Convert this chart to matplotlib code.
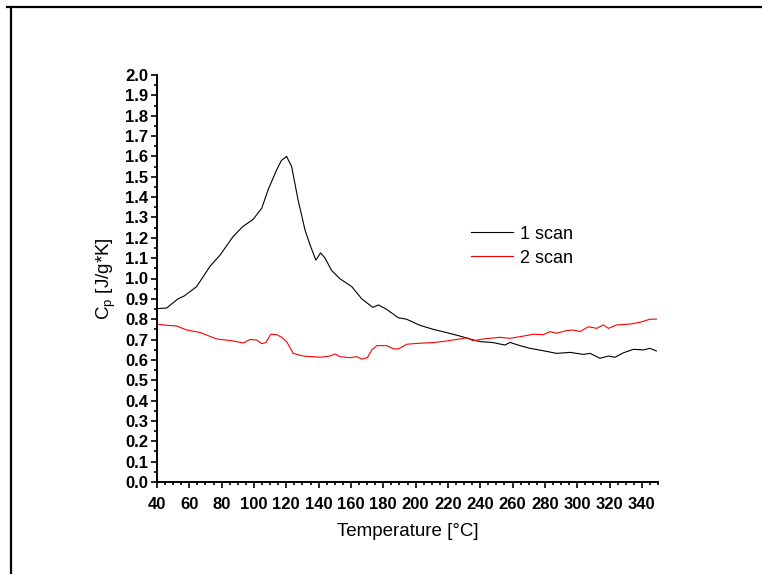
import matplotlib
matplotlib.use("Agg")
import matplotlib.pyplot as plt
from matplotlib.lines import Line2D
from matplotlib.ticker import MultipleLocator, FormatStrFormatter

plt.rcParams['font.family'] = ['Liberation Sans', 'DejaVu Sans']

# 1 scan (black)
t1 = [40, 46, 53, 57, 64.5, 72.8, 79, 87, 93, 99.4, 104.8, 108.7, 114, 117,
      120.2, 123.3, 127.3, 131.6, 134.7, 138.3, 141.2, 144, 148, 153, 160.5,
      166.7, 173.5, 177, 182, 189.3, 194.4, 202.7, 211, 219.3, 227.5, 235.7,
      240, 248, 255.3, 258.4, 264.6, 270.8, 279, 287.3, 295.6, 303.8, 308,
      314.1, 319.3, 323.4, 328.6, 334.8, 341, 345, 349]
cp1 = [0.852, 0.855, 0.90, 0.915, 0.96, 1.06, 1.115, 1.205, 1.255, 1.29,
       1.345, 1.435, 1.533, 1.58, 1.60, 1.55, 1.386, 1.238, 1.165, 1.09,
       1.126, 1.10, 1.04, 1.00, 0.96, 0.90, 0.858, 0.87, 0.849, 0.807, 0.80,
       0.77, 0.75, 0.734, 0.717, 0.698, 0.69, 0.685, 0.673, 0.686, 0.67,
       0.657, 0.645, 0.632, 0.637, 0.627, 0.632, 0.608, 0.619, 0.613, 0.635,
       0.652, 0.649, 0.657, 0.644]

# 2 scan (red)
t2 = [40, 46, 52, 58.4, 66.6, 76.9, 87.2, 93.4, 97.5, 101.7, 104.8, 107.4,
      110.4, 114, 117, 120.2, 124.3, 130.5, 140.9, 147, 150.1, 153.2, 159.4,
      163.6, 166.7, 170.2, 172.9, 176, 182.2, 186.3, 189.4, 194.6, 202.7,
      211, 219.3, 227.5, 231.7, 235.7, 242, 252.2, 258.4, 266.7, 272.9, 279,
      283.2, 287.3, 293.5, 297.6, 301.8, 306.9, 312.1, 316.2, 319.3, 324.5,
      332.7, 338.9, 345.1, 349]
cp2 = [0.776, 0.77, 0.767, 0.747, 0.735, 0.703, 0.693, 0.683, 0.70, 0.698,
       0.68, 0.685, 0.726, 0.724, 0.712, 0.69, 0.632, 0.619, 0.613, 0.619,
       0.629, 0.616, 0.611, 0.616, 0.604, 0.611, 0.649, 0.67, 0.67, 0.654,
       0.654, 0.677, 0.682, 0.685, 0.693, 0.703, 0.709, 0.694, 0.703, 0.711,
       0.706, 0.717, 0.726, 0.724, 0.739, 0.731, 0.744, 0.747, 0.739, 0.763,
       0.755, 0.772, 0.755, 0.772, 0.776, 0.785, 0.80, 0.80]

x_ticks = list(range(40, 341, 20))

fig = plt.figure(figsize=(7.62, 5.74), dpi=100)
ax = fig.add_axes([157 / 762, 1 - 482 / 574, 501 / 762, 407 / 574])

ax.plot(t1, cp1, color='black', lw=0.8, label='1 scan')
ax.plot(t2, cp2, color='red', lw=0.8, label='2 scan')

ax.set_xlim(40, 350)
ax.set_ylim(0, 2.0)
ax.set_xticks(x_ticks)
ax.xaxis.set_minor_locator(MultipleLocator(5))
ax.yaxis.set_major_locator(MultipleLocator(0.1))
ax.yaxis.set_minor_locator(MultipleLocator(0.05))
ax.yaxis.set_major_formatter(FormatStrFormatter('%.1f'))

for s in ['top', 'right']:
    ax.spines[s].set_visible(False)
for s in ['left', 'bottom']:
    ax.spines[s].set_linewidth(1.4)

ax.tick_params(which='major', direction='out', length=4.5, width=1.2)
ax.tick_params(which='minor', direction='out', length=2.5, width=1.2)
ax.tick_params(axis='y', which='major', pad=2)
ax.tick_params(axis='x', which='major', pad=6)
for lbl in ax.get_xticklabels() + ax.get_yticklabels():
    lbl.set_fontsize(12)
    lbl.set_fontweight('bold')

ax.set_xlabel('Temperature [°C]', fontsize=13.5, labelpad=8)
ax.set_ylabel('C$_\\mathregular{p}$ [J/g*K]', fontsize=13.5, labelpad=5)

ax.legend(loc='upper left', bbox_to_anchor=(0.595, 0.67), frameon=False,
          fontsize=13, handlelength=2.3, handletextpad=0.4, labelspacing=0.4)

# outer frame (top and left edges only)
fig.add_artist(Line2D([7 / 762, 1], [1 - 7 / 574, 1 - 7 / 574],
                      transform=fig.transFigure, color='black', lw=1.6))
fig.add_artist(Line2D([11 / 762, 11 / 762], [0, 1 - 7 / 574],
                      transform=fig.transFigure, color='black', lw=1.6))

fig.savefig('out.png', dpi=100)
plt.close(fig)
